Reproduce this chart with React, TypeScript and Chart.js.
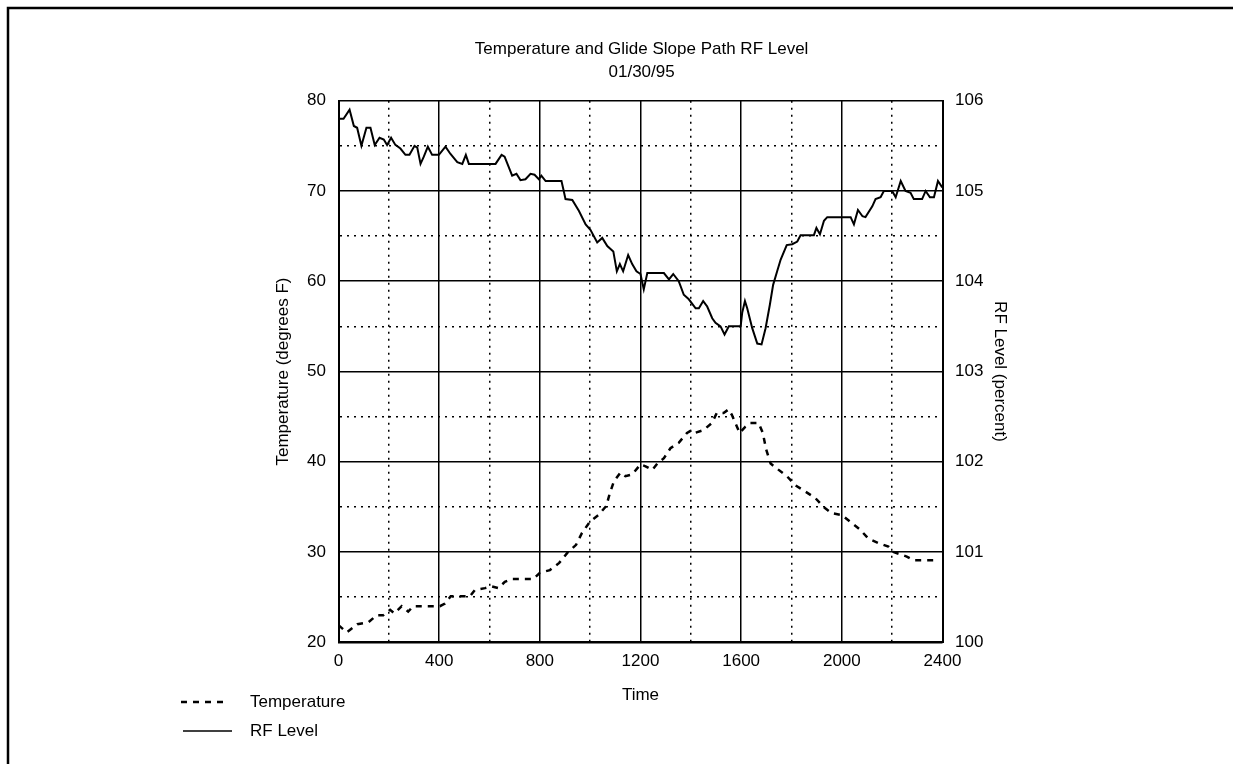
import React, { useEffect, useRef } from "react";
import { Chart, registerables } from "chart.js";

Chart.register(...registerables);

const FONT = "'Liberation Sans', Arial, Helvetica, sans-serif";

const chartTitle = ["Temperature and Glide Slope Path RF Level", "01/30/95"];
const xTitle = "Time";
const yLeftTitle = "Temperature (degrees F)";
const yRightTitle = "RF Level (percent)";

const tempLabel = "Temperature";
const rfLabel = "RF Level";

// Temperature series (time, degrees F)
const tempTimes = [
  0, 33, 75, 118, 152, 178, 205, 222, 251, 277, 297, 403, 423, 446, 522, 542, 582, 608, 635, 661,
  688, 774, 800, 840, 877, 909, 944, 967, 1000, 1033, 1064, 1078, 1094, 1120, 1140, 1167, 1200,
  1220, 1247, 1267, 1293, 1319, 1352, 1385, 1404, 1417, 1450, 1484, 1503, 1530, 1550, 1563, 1577,
  1594, 1617, 1636, 1669, 1686, 1699, 1717, 1749, 1782, 1815, 1855, 1894, 1927, 1960, 2000, 2040,
  2072, 2105, 2145, 2185, 2205, 2258, 2285, 2364,
];
const tempValues = [
  21.9, 21.1, 22.0, 22.2, 23.0, 23.0, 23.6, 23.2, 24.0, 23.4, 24.0, 24.0, 24.3, 25.1, 25.1, 25.8,
  26.0, 26.2, 26.0, 26.7, 27.0, 27.0, 27.7, 28.0, 28.8, 29.9, 30.8, 32.1, 33.4, 34.1, 35.1, 36.5,
  37.8, 38.8, 38.4, 38.6, 39.7, 39.5, 39.1, 39.8, 40.4, 41.5, 42.1, 43.2, 43.5, 43.2, 43.5, 44.3,
  45.4, 45.4, 45.8, 45.2, 44.3, 43.2, 43.9, 44.3, 44.3, 43.2, 41.4, 39.8, 39.1, 38.4, 37.4, 36.7,
  36.0, 35.0, 34.3, 34.1, 33.2, 32.5, 31.5, 31.0, 30.6, 30.0, 29.5, 29.1, 29.1,
];

// RF Level series (time, percent)
const rfTimes = [
  0, 20, 44, 61, 74, 91, 111, 127, 144, 163, 180, 193, 209, 226, 246, 266, 282, 302, 313, 326, 339,
  355, 372, 399, 425, 445, 472, 492, 506, 518, 624, 648, 660, 690, 707, 723, 743, 763, 779, 796,
  806, 823, 886, 895, 902, 929, 955, 982, 1001, 1028, 1048, 1068, 1092, 1106, 1118, 1131, 1151,
  1167, 1184, 1200, 1213, 1227, 1293, 1313, 1330, 1352, 1372, 1392, 1419, 1432, 1449, 1465, 1485,
  1498, 1518, 1534, 1551, 1598, 1604, 1615, 1624, 1644, 1664, 1681, 1697, 1714, 1727, 1743, 1757,
  1781, 1803, 1823, 1836, 1889, 1899, 1913, 1929, 1942, 2035, 2048, 2064, 2082, 2094, 2121, 2134,
  2154, 2167, 2200, 2214, 2234, 2253, 2273, 2286, 2319, 2333, 2350, 2366, 2382, 2399,
];
const rfValues = [
  105.8, 105.8, 105.9, 105.72, 105.7, 105.5, 105.7, 105.7, 105.51, 105.59, 105.57, 105.51, 105.59,
  105.51, 105.47, 105.4, 105.4, 105.5, 105.48, 105.3, 105.38, 105.49, 105.4, 105.4, 105.49, 105.41,
  105.32, 105.3, 105.4, 105.3, 105.3, 105.4, 105.38, 105.17, 105.19, 105.12, 105.13, 105.19,
  105.18, 105.13, 105.17, 105.11, 105.11, 105.0, 104.91, 104.9, 104.78, 104.63, 104.57, 104.43,
  104.48, 104.39, 104.33, 104.11, 104.19, 104.11, 104.29, 104.19, 104.11, 104.08, 103.91, 104.09,
  104.09, 104.02, 104.08, 104.0, 103.85, 103.8, 103.7, 103.7, 103.78, 103.72, 103.59, 103.54,
  103.5, 103.41, 103.5, 103.5, 103.65, 103.78, 103.7, 103.48, 103.31, 103.3, 103.48, 103.74,
  103.96, 104.11, 104.24, 104.4, 104.41, 104.44, 104.51, 104.51, 104.59, 104.52, 104.67, 104.71,
  104.71, 104.63, 104.79, 104.72, 104.71, 104.83, 104.91, 104.93, 105.0, 105.0, 104.93, 105.11,
  105.0, 104.98, 104.91, 104.91, 105.0, 104.93, 104.93, 105.11, 105.04,
];

const xMin = 0;
const xMax = 2400;
const xStep = 200;
const xLabelEvery = 400;
const yLeftMin = 20;
const yLeftMax = 80;
const yLeftStep = 5;
const yLeftLabelEvery = 10;
const yRightMin = 100;
const yRightMax = 106;
const yRightStep = 0.5;

const TEMP_DASH = [6, 6];

const isMult = (v: number, m: number) => Math.abs(v / m - Math.round(v / m)) < 1e-6;

const framePlugin = {
  id: "framePlugin",
  afterDraw(chart: any) {
    const ctx = chart.ctx;
    ctx.save();
    ctx.strokeStyle = "#000";
    ctx.lineWidth = 2.5;
    ctx.setLineDash([]);
    ctx.beginPath();
    ctx.moveTo(8, 764);
    ctx.lineTo(8, 8);
    ctx.lineTo(1233, 8);
    ctx.stroke();

    // legend
    const ds = chart.data.datasets;
    const rows = [
      { y: 702, x0: 181, x1: 223, dash: TEMP_DASH, width: 2.5, label: ds[0].label },
      { y: 731, x0: 183, x1: 232, dash: [], width: 1.5, label: ds[1].label },
    ];
    ctx.font = `17px ${FONT}`;
    ctx.fillStyle = "#000";
    ctx.textBaseline = "middle";
    ctx.textAlign = "left";
    rows.forEach((r) => {
      ctx.beginPath();
      ctx.setLineDash(r.dash);
      ctx.lineWidth = r.width;
      ctx.moveTo(r.x0, r.y);
      ctx.lineTo(r.x1, r.y);
      ctx.stroke();
      ctx.setLineDash([]);
      ctx.fillText(r.label, 250, r.y);
    });
    ctx.restore();
  },
};

export default function App() {
  const canvasRef = useRef<HTMLCanvasElement | null>(null);

  useEffect(() => {
    const canvas = canvasRef.current;
    if (!canvas) return;
    Chart.defaults.font.family = FONT;
    Chart.defaults.font.size = 17;
    Chart.defaults.color = "#000";

    const gridLineWidth = (ctx: any) => {
      if (!ctx.tick) return 1.5;
      return 1.5;
    };

    const chart = new Chart(canvas, {
      type: "line",
      data: {
        datasets: [
          {
            label: tempLabel,
            data: tempTimes.map((t, i) => ({ x: t, y: tempValues[i] })),
            yAxisID: "y",
            borderColor: "#000",
            borderWidth: 2.5,
            borderDash: TEMP_DASH,
            pointRadius: 0,
            tension: 0,
            fill: false,
          },
          {
            label: rfLabel,
            data: rfTimes.map((t, i) => ({ x: t, y: rfValues[i] })),
            yAxisID: "y1",
            borderColor: "#000",
            borderWidth: 2,
            pointRadius: 0,
            tension: 0,
            fill: false,
          },
        ],
      },
      options: {
        responsive: false,
        animation: false,
        devicePixelRatio: 1,
        layout: { padding: { top: 30, left: 270, right: 219.8, bottom: 56.7 } },
        plugins: {
          legend: { display: false },
          tooltip: { enabled: false },
          title: {
            display: true,
            text: chartTitle,
            color: "#000",
            font: { size: 17, weight: "normal", lineHeight: 1.4 },
            padding: { top: 7.1, bottom: 16 },
          },
        },
        scales: {
          x: {
            type: "linear",
            min: xMin,
            max: xMax,
            afterFit: (s: any) => {
              s.height = 65;
            },
            ticks: {
              stepSize: xStep,
              autoSkip: false,
              maxRotation: 0,
              padding: 9,
              color: "#000",
              callback: (v: any) => (isMult(Number(v), xLabelEvery) ? String(v) : ""),
            },
            grid: {
              color: "#000",
              lineWidth: gridLineWidth,
              drawTicks: false,
            },
            border: {
              display: true,
              color: "#000",
              width: 2,
              dash: (ctx: any) =>
                ctx.tick && !isMult(ctx.tick.value, xLabelEvery) ? [2, 5] : [],
            },
            title: {
              display: true,
              text: xTitle,
              color: "#000",
              font: { size: 17 },
              padding: { top: 0, bottom: 2 },
            },
          },
          y: {
            type: "linear",
            position: "left",
            min: yLeftMin,
            max: yLeftMax,
            afterFit: (s: any) => {
              s.width = 68.5;
            },
            ticks: {
              stepSize: yLeftStep,
              autoSkip: false,
              padding: 12.5,
              color: "#000",
              callback: (v: any) => (isMult(Number(v), yLeftLabelEvery) ? String(v) : ""),
            },
            grid: {
              color: "#000",
              lineWidth: gridLineWidth,
              drawTicks: false,
            },
            border: {
              display: true,
              color: "#000",
              width: 2,
              dash: (ctx: any) =>
                ctx.tick && !isMult(ctx.tick.value, yLeftLabelEvery) ? [2, 5] : [],
            },
            title: {
              display: true,
              text: yLeftTitle,
              color: "#000",
              font: { size: 17 },
              padding: { top: 3, bottom: 0 },
            },
          },
          y1: {
            type: "linear",
            position: "right",
            min: yRightMin,
            max: yRightMax,
            afterFit: (s: any) => {
              s.width = 70.7;
            },
            ticks: {
              stepSize: yRightStep,
              autoSkip: false,
              padding: 12.5,
              color: "#000",
              callback: (v: any) => (isMult(Number(v), 1) ? String(v) : ""),
            },
            grid: {
              drawOnChartArea: false,
              drawTicks: false,
            },
            border: {
              display: true,
              color: "#000",
              width: 2,
            },
            title: {
              display: true,
              text: yRightTitle,
              color: "#000",
              font: { size: 17 },
              padding: { top: 3, bottom: 0 },
            },
          },
        },
      },
      plugins: [framePlugin],
    });
    return () => chart.destroy();
  }, []);

  return (
    <div style={{ position: "fixed", left: 0, top: 0, width: 1233, height: 764, background: "#fff" }}>
      <canvas ref={canvasRef} width={1233} height={764} style={{ display: "block" }} />
    </div>
  );
}
